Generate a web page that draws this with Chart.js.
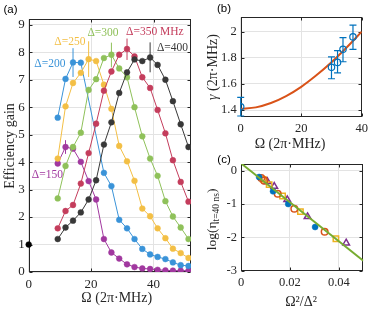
<!DOCTYPE html>
<html><head><meta charset="utf-8">
<script src="https://cdn.jsdelivr.net/npm/chart.js@4.4.0/dist/chart.umd.min.js"></script>
<style>
html,body{margin:0;padding:0;background:#fff;}
#wrap{position:relative;width:372px;height:309px;overflow:hidden;background:#fff;}
canvas{position:absolute;}
</style></head><body>
<div id="wrap">
<canvas id="ca" width="200" height="309" style="left:0;top:0;"></canvas>
<canvas id="cb" width="172" height="160" style="left:200px;top:0;"></canvas>
<canvas id="cc" width="172" height="159" style="left:200px;top:150px;"></canvas>
</div>
<script>
// ---------------- Panel (a): efficiency gain vs Omega ----------------
const omegaA = [9.3,11.8,14.2,16.7,19.2,21.6,24.1,26.5,29.0,31.5,33.9,36.4,38.9,41.3,43.8,46.2,48.7,51.2];
const gain150 = [3.95,4.55,4.49,4.01,3.31,2.64,1.20,0.71,0.49,0.28,0.18,0.13,0.11,0.08,0.06,0.05,0.05,0.05];
const gain200 = [5.62,7.03,7.63,7.62,null,null,3.61,3.13,1.90,1.59,1.20,0.84,0.64,0.55,0.47,0.35,0.25,0.22];
const gain250 = [4.13,6.03,6.88,7.25,7.75,7.68,6.82,5.94,4.59,4.03,3.32,2.31,2.03,1.59,1.23,0.85,0.69,0.51];
const gain300 = [2.68,3.86,4.55,5.07,6.63,7.02,7.79,7.91,7.41,7.09,6.00,4.94,4.13,3.50,2.58,2.02,1.62,1.20];
const gain350 = [1.59,2.22,2.44,3.22,4.33,5.40,6.60,7.30,7.91,8.12,7.85,7.09,6.70,5.90,5.05,4.07,3.28,2.56];
const gain400 = [1.20,1.62,1.87,2.17,2.64,3.34,4.64,5.45,6.52,7.27,7.74,7.68,7.81,7.54,7.00,6.22,5.38,4.55];
const refOmega = [0];
const refGain = [1];
const seriesNamesA = ['Δ=150','Δ=200','Δ=250','Δ=300','Δ=350 MHz','Δ=400'];
const errIdxA = [1,2,4,7,9,12];
const errLowA = [4.30,7.10,7.10,7.45,7.72,7.27];
const errHighA = [4.80,8.15,8.40,8.35,8.50,8.36];
const xTicksA = [0,20,40];
const yTicksA = [0,1,2,3,4,5,6,7,8,9];

// ---------------- Panel (b): gamma vs Omega ----------------
const omegaB = [0,30.0,32.0,33.8,37.1];
const gammaB = [1.425,1.727,1.765,1.865,1.960];
const gammaLowB = [1.355,1.640,1.685,1.770,1.865];
const gammaHighB = [1.497,1.808,1.855,1.955,2.050];
const fitOmegaB = [0,5,10,15,20,25,30,35,40];
const fitGammaB = [1.410,1.421,1.454,1.507,1.578,1.666,1.766,1.879,2.000];
const xTicksB = [0,20,40];
const yTicksB = [1.4,1.6,1.8,2];

// ---------------- Panel (c): log(eta) vs Omega^2/Delta^2 ----------------
const xBlueC = [0.0074,0.0131,0.0193,0.0303];
const yBlueC = [-0.19,-0.62,-1.00,-1.69];
const xOrangeC = [0.0083,0.0095,0.0150,0.0218,0.0342];
const yOrangeC = [-0.22,-0.30,-0.69,-1.14,-1.83];
const xYellowC = [0.0091,0.0115,0.0170,0.0243,0.0388];
const yYellowC = [-0.26,-0.42,-0.76,-1.23,-2.04];
const xPurpleC = [0.0108,0.0136,0.0189,0.0272,0.0430];
const yPurpleC = [-0.33,-0.47,-0.87,-1.38,-2.17];
const fitXC = [0,0.05];
const fitYC = [0.22,-2.70];
const xTicksC = [0,0.02,0.04];
const yTicksC = [-3,-2,-1,0];

// ---------------- styling ----------------
const SERIF = "'Liberation Serif','Times New Roman',serif";
const SANS = "'Liberation Sans',Arial,sans-serif";
const AX = '#262626';
const GRID = '#e3e3e3';
const colorsA = ['#a1389f','#3a93d8','#f3bf45','#8fc15a','#c43d5c','#383838'];
const labelPosA = [[1.0,3.55],[1.8,7.59],[8.2,8.36],[18.8,8.70],[31.2,8.75],[41.1,8.14]];

function pts(xs, ys){ return xs.map((x,i)=>({x:x, y:ys[i]})); }
function setTicks(arr){ return s => { s.ticks = arr.map(v=>({value:v})); }; }

const framePlugin = {
  id:'frame',
  beforeDatasetsDraw(chart){
    const {ctx, chartArea:a, scales:{x,y}} = chart;
    ctx.save();
    ctx.strokeStyle = AX; ctx.lineWidth = 1;
    const l=Math.round(a.left)+0.5, r=Math.round(a.right)-0.5, t=Math.round(a.top)+0.5, b=Math.round(a.bottom)-0.5;
    ctx.strokeRect(l,t,r-l,b-t);
    const L = 3;
    ctx.beginPath();
    x.ticks.forEach(tk=>{ const p=Math.round(x.getPixelForValue(tk.value))+0.5; ctx.moveTo(p,b); ctx.lineTo(p,b-L); ctx.moveTo(p,t); ctx.lineTo(p,t+L); });
    y.ticks.forEach(tk=>{ const p=Math.round(y.getPixelForValue(tk.value))+0.5; ctx.moveTo(l,p); ctx.lineTo(l+L,p); ctx.moveTo(r,p); ctx.lineTo(r-L,p); });
    ctx.stroke();
    ctx.restore();
  }
};

// titles made of text segments [text, font, dy]; centred at (x,y), optionally rotated
function titlesPlugin(items){
  return {
    id:'titles',
    afterDraw(chart){
      const ctx = chart.ctx;
      items.forEach(it=>{
        ctx.save();
        ctx.translate(it.x, it.y);
        if (it.rot) ctx.rotate(-Math.PI/2);
        ctx.textBaseline='middle'; ctx.textAlign='left';
        ctx.fillStyle = it.color || AX;
        let total = 0;
        it.parts.forEach(p=>{ ctx.font = p[1]; total += ctx.measureText(p[0]).width; });
        let sx = -total/2;
        it.parts.forEach(p=>{ ctx.font = p[1]; ctx.fillText(p[0], sx, p[2]||0); sx += ctx.measureText(p[0]).width; });
        ctx.restore();
      });
    }
  };
}

const errPluginA = {
  id:'errA',
  afterDatasetsDraw(chart){
    const {ctx, scales:{x,y}} = chart;
    ctx.save(); ctx.lineWidth = 1;
    errIdxA.forEach((idx,k)=>{
      ctx.strokeStyle = colorsA[k];
      const px = x.getPixelForValue(omegaA[idx]);
      ctx.beginPath();
      ctx.moveTo(px, y.getPixelForValue(errLowA[k]));
      ctx.lineTo(px, y.getPixelForValue(errHighA[k]));
      ctx.stroke();
    });
    ctx.font = '11.5px ' + SERIF; ctx.textBaseline = 'middle'; ctx.textAlign = 'left';
    seriesNamesA.forEach((name,k)=>{
      ctx.fillStyle = colorsA[k];
      ctx.fillText(name, x.getPixelForValue(labelPosA[k][0]), y.getPixelForValue(labelPosA[k][1]));
    });
    ctx.restore();
  }
};

const errPluginB = {
  id:'errB',
  afterDatasetsDraw(chart){
    const {ctx, scales:{x,y}} = chart;
    ctx.save(); ctx.lineWidth = 1.2; ctx.strokeStyle = '#0072BD';
    omegaB.forEach((o,i)=>{
      const px = x.getPixelForValue(o);
      const y1 = y.getPixelForValue(gammaLowB[i]), y2 = y.getPixelForValue(gammaHighB[i]);
      ctx.beginPath();
      ctx.moveTo(px,y1); ctx.lineTo(px,y2);
      ctx.moveTo(px-3.5,y1); ctx.lineTo(px+3.5,y1);
      ctx.moveTo(px-3.5,y2); ctx.lineTo(px+3.5,y2);
      ctx.stroke();
    });
    ctx.restore();
  }
};

function axisX(min,max,ticks,h,fontSize,pad){
  return {type:'linear', min:min, max:max, afterBuildTicks:setTicks(ticks), afterFit:s=>{s.height=h;},
    grid:{color:GRID, drawTicks:false, lineWidth:1}, border:{display:false},
    ticks:{font:{family:SERIF,size:fontSize}, color:AX, padding:pad, maxRotation:0, autoSkip:false, callback:v=>String(v)}};
}
function axisY(min,max,ticks,w,fontSize,pad){
  return {type:'linear', min:min, max:max, afterBuildTicks:setTicks(ticks), afterFit:s=>{s.width=w;},
    grid:{color:GRID, drawTicks:false, lineWidth:1}, border:{display:false},
    ticks:{font:{family:SERIF,size:fontSize}, color:AX, padding:pad, autoSkip:false, callback:v=>String(v)}};
}
const baseOpts = {responsive:false, animation:false, events:[], plugins:{legend:{display:false}, tooltip:{enabled:false}}};
const F14 = '14px ' + SERIF;
const LBL = '11.5px ' + SANS;

// ---- chart (a)
const seriesA = [gain150,gain200,gain250,gain300,gain350,gain400];
const dsA = [{data:pts(refOmega,refGain), showLine:false, pointRadius:2.9, pointBackgroundColor:'#000', pointBorderColor:'#000', pointBorderWidth:0.5, clip:false}];
for (let k=seriesA.length-1;k>=0;k--){
  dsA.push({data:pts(omegaA,seriesA[k]), showLine:true, spanGaps:true, borderColor:colorsA[k], borderWidth:1,
    pointRadius:2.9, pointBackgroundColor:colorsA[k], pointBorderColor:colorsA[k], pointBorderWidth:0.5});
}
new Chart(document.getElementById('ca'), {
  type:'scatter', data:{datasets:dsA},
  options:Object.assign({}, baseOpts, {
    layout:{padding:{left:0,right:9,top:19.3,bottom:0}},
    scales:{
      x:axisX(0,52,xTicksA,37,13,5),
      y:axisY(0,9.2,yTicksA,28.7,13,4)
    }}),
  plugins:[framePlugin, errPluginA, titlesPlugin([
    {parts:[['(a)',LBL]], x:10.5, y:9.5, color:'#000'},
    {parts:[['Ω (2π·MHz)',F14]], x:116.7, y:298.3},
    {parts:[['Efficiency gain',F14]], x:10, y:146, rot:true}
  ])]
});

// ---- chart (b)
new Chart(document.getElementById('cb'), {
  type:'scatter',
  data:{datasets:[
    {data:pts(omegaB,gammaB), showLine:false, pointRadius:3.2, pointBackgroundColor:'rgba(0,0,0,0)', pointBorderColor:'#0072BD', pointBorderWidth:1.2},
    {data:pts(fitOmegaB,fitGammaB), showLine:true, borderColor:'#D95319', borderWidth:2, pointRadius:0, cubicInterpolationMode:'monotone'}
  ]},
  options:Object.assign({}, baseOpts, {
    layout:{padding:{left:0,right:8.7,top:17.3,bottom:0}},
    scales:{
      x:axisX(0,40,xTicksB,42.7,12.5,4),
      y:axisY(1.345,2.11,yTicksB,40.7,12.5,4)
    }}),
  plugins:[framePlugin, errPluginB, titlesPlugin([
    {parts:[['(b)',LBL]], x:24, y:9.2, color:'#000'},
    {parts:[['Ω (2π·MHz)',F14]], x:90, y:144},
    {parts:[['γ','italic '+F14],[' (2π·MHz)',F14]], x:13, y:67, rot:true}
  ])]
});

// ---- chart (c)
new Chart(document.getElementById('cc'), {
  type:'scatter',
  data:{datasets:[
    {data:pts(fitXC,fitYC), showLine:true, borderColor:'#77AC30', borderWidth:2, pointRadius:0},
    {data:pts(xBlueC,yBlueC), showLine:false, pointRadius:3, pointBackgroundColor:'#0072BD', pointBorderColor:'#0072BD', pointBorderWidth:0.5},
    {data:pts(xOrangeC,yOrangeC), showLine:false, pointRadius:3.3, pointBackgroundColor:'rgba(0,0,0,0)', pointBorderColor:'#D95319', pointBorderWidth:1.5},
    {data:pts(xYellowC,yYellowC), showLine:false, pointStyle:'rect', pointRadius:3.8, pointBackgroundColor:'rgba(0,0,0,0)', pointBorderColor:'#EDB120', pointBorderWidth:1.5},
    {data:pts(xPurpleC,yPurpleC), showLine:false, pointStyle:'triangle', pointRadius:3.8, pointBackgroundColor:'rgba(0,0,0,0)', pointBorderColor:'#7E2F8E', pointBorderWidth:1.5}
  ]},
  options:Object.assign({}, baseOpts, {
    layout:{padding:{left:0,right:8.7,top:14,bottom:0}},
    scales:{
      x:axisX(0,0.05,xTicksC,38.3,12.5,5),
      y:axisY(-3,0.2,yTicksC,41,12.5,4)
    }}),
  plugins:[framePlugin, titlesPlugin([
    {parts:[['(c)',LBL]], x:24, y:9.5, color:'#000'},
    {parts:[['Ω²/Δ²',F14]], x:101, y:152.7},
    {parts:[['log(η','13.5px '+SERIF],['t=40 ns','9.5px '+SERIF,4],[')','13.5px '+SERIF]], x:12, y:69.4, rot:true}
  ])]
});
</script>
</body></html>
